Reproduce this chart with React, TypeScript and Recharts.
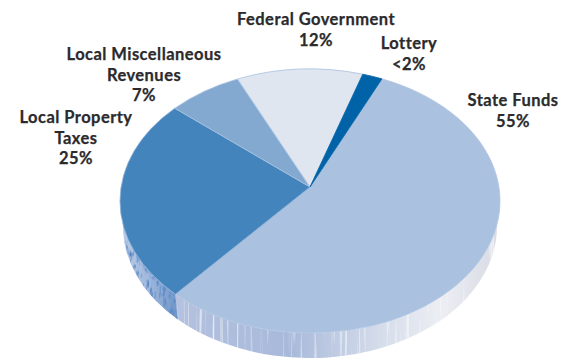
import React from "react";
import { PieChart, Pie } from "recharts";

const WIDTH = 574;
const HEIGHT = 358;

const categories = ["State Funds", "Local Property Taxes", "Local Miscellaneous Revenues", "Federal Government", "Lottery"];
const values = [55, 25, 7, 12, 1.9];
const valueLabels = ["55%", "25%", "7%", "12%", "<2%"];
const labelLines = [
  ["State Funds"],
  ["Local Property", "Taxes"],
  ["Local Miscellaneous", "Revenues"],
  ["Federal Government"],
  ["Lottery"],
];
const sliceColors = ["#aac1df", "#4384bd", "#84a9d1", "#dfe6ef", "#0063a8"];
const sliceEdges = ["#b4c8e2", "#8eb0d6", "#a9c3df", "#a9c0de", "#0063a8"];

// Anchor (centre x, first baseline y) of each label block.
const labelAnchors = [
  [513, 106],
  [76, 123],
  [144, 60],
  [316, 25],
  [409, 49],
];

const pieData = categories.map((name, i) => ({ name, value: values[i], fill: sliceColors[i] }));

// Disc geometry: top face ellipse, lower rim ellipse and the tilt of the view.
const CX = 310;
const CY = 201;
const RX = 190;
const RY = 132;
const TILT = 14 / 132;
const RIM_CY = 226;
const RIM_RX = 187;
const RIM_RY = 132;

const START_ANGLE = 65.3;

const rad = (d: number) => (d * Math.PI) / 180;
const deg = (r: number) => (r * 180) / Math.PI;

// Perspective map of a disc angle onto the ellipse parameter.
function tilted(angle: number) {
  const c = Math.cos(rad(angle));
  const s = Math.sin(rad(angle));
  const d = 1 + TILT * s;
  return deg(Math.atan2((s + TILT) / d, (c * Math.sqrt(1 - TILT * TILT)) / d));
}

const onTop = (t: number) => [CX + RX * Math.cos(rad(t)), CY - RY * Math.sin(rad(t))];
const onRim = (t: number) => [CX + RIM_RX * Math.cos(rad(t)), RIM_CY - RIM_RY * Math.sin(rad(t))];
const f = (n: number) => n.toFixed(2);

function TopSlice(props: any) {
  const { startAngle, endAngle, index, fill } = props;
  const hi = Math.max(startAngle, endAngle);
  const lo = Math.min(startAngle, endAngle);
  const tHi = tilted(hi);
  let tLo = tilted(lo);
  while (tLo > tHi) tLo -= 360;
  const [x1, y1] = onTop(tHi);
  const [x2, y2] = onTop(tLo);
  const apexY = CY - RY * TILT;
  const large = tHi - tLo > 180 ? 1 : 0;
  const d = `M${CX},${f(apexY)} L${f(x1)},${f(y1)} A${RX},${RY} 0 ${large} 1 ${f(x2)},${f(y2)} Z`;
  return <path d={d} fill={fill} stroke={sliceEdges[index]} strokeWidth={0.8} strokeLinejoin="round" />;
}

function WallSlice(props: any) {
  const { startAngle, endAngle, index } = props;
  const hi = Math.max(startAngle, endAngle);
  const lo = Math.min(startAngle, endAngle);
  const tHi = tilted(hi);
  let tLo = tilted(lo);
  while (tLo > tHi) tLo -= 360;
  const a = Math.min(tHi, 0);
  const b = Math.max(tLo, -180);
  if (a <= b) return null;
  const [x1, y1] = onTop(a);
  const [x2, y2] = onTop(b);
  const [x3, y3] = onRim(b);
  const [x4, y4] = onRim(a);
  const d =
    `M${f(x1)},${f(y1)} A${RX},${RY} 0 0 1 ${f(x2)},${f(y2)} L${f(x3)},${f(y3)} ` +
    `A${RIM_RX},${RIM_RY} 0 0 0 ${f(x4)},${f(y4)} Z`;
  const isState = index === 0;
  const gradId = `wall-${index}`;
  return (
    <g>
      <defs>
        {isState ? (
          <linearGradient id={gradId} gradientUnits="userSpaceOnUse" x1={176} y1={0} x2={500} y2={0}>
            <stop offset="0" stopColor="#b4c1df" />
            <stop offset="0.35" stopColor="#a8b9da" />
            <stop offset="0.62" stopColor="#d3dbea" />
            <stop offset="0.82" stopColor="#eceef3" />
            <stop offset="1" stopColor="#d8dae5" />
          </linearGradient>
        ) : (
          <linearGradient id={gradId} gradientUnits="userSpaceOnUse" x1={120} y1={0} x2={178} y2={0}>
            <stop offset="0" stopColor="#bccde7" />
            <stop offset="0.5" stopColor="#9fb8dc" />
            <stop offset="1" stopColor="#6f95c8" />
          </linearGradient>
        )}
        <filter id={`grain-${index}`} x="0" y="0" width="100%" height="100%" colorInterpolationFilters="sRGB">
          <feTurbulence
            type="fractalNoise"
            baseFrequency={isState ? "0.3 0.01" : "0.3 0.12"}
            numOctaves={2}
            seed={isState ? 4 : 9}
          />
          <feColorMatrix
            type="matrix"
            values={
              isState
                ? "0 0 0 0 1  0 0 0 0 1  0 0 0 0 1  2.6 0 0 0 -1.45"
                : "0 0 0 0 0.32  0 0 0 0 0.52  0 0 0 0 0.78  3 0 0 0 -1.45"
            }
          />
          <feComposite in2="SourceAlpha" operator="in" />
        </filter>
      </defs>
      <path d={d} fill={`url(#${gradId})`} />
      <path d={d} fill="#000" filter={`url(#grain-${index})`} />
    </g>
  );
}

function SliceLabel(props: any) {
  const { index } = props;
  const [x, y] = labelAnchors[index];
  const rows = [...labelLines[index], valueLabels[index]];
  return (
    <text
      x={x}
      y={y}
      textAnchor="middle"
      fontFamily="Lato, 'Open Sans', sans-serif"
      fontWeight={700}
      fontSize={16.5}
      letterSpacing={0.45}
      stroke="#2b2a2c"
      strokeWidth={0.25}
      fill="#2b2a2c"
    >
      {rows.map((row, i) => (
        <tspan key={row} x={x} dy={i === 0 ? 0 : 20.5}>
          {row}
        </tspan>
      ))}
    </text>
  );
}

export default function App() {
  return (
    <div style={{ position: "absolute", left: 0, top: 0, width: WIDTH, height: HEIGHT, background: "#fff" }}>
      <PieChart width={WIDTH} height={HEIGHT} margin={{ top: 0, right: 0, bottom: 0, left: 0 }}>
        <Pie
          data={pieData}
          dataKey="value"
          nameKey="name"
          cx={CX}
          cy={CY}
          innerRadius={0}
          outerRadius={RX}
          startAngle={START_ANGLE}
          endAngle={START_ANGLE - 360}
          stroke="none"
          shape={WallSlice}
          isAnimationActive={false}
          legendType="none"
        />
        <Pie
          data={pieData}
          dataKey="value"
          nameKey="name"
          cx={CX}
          cy={CY}
          innerRadius={0}
          outerRadius={RX}
          startAngle={START_ANGLE}
          endAngle={START_ANGLE - 360}
          stroke="none"
          shape={TopSlice}
          label={SliceLabel}
          labelLine={false}
          isAnimationActive={false}
        />
      </PieChart>
    </div>
  );
}
